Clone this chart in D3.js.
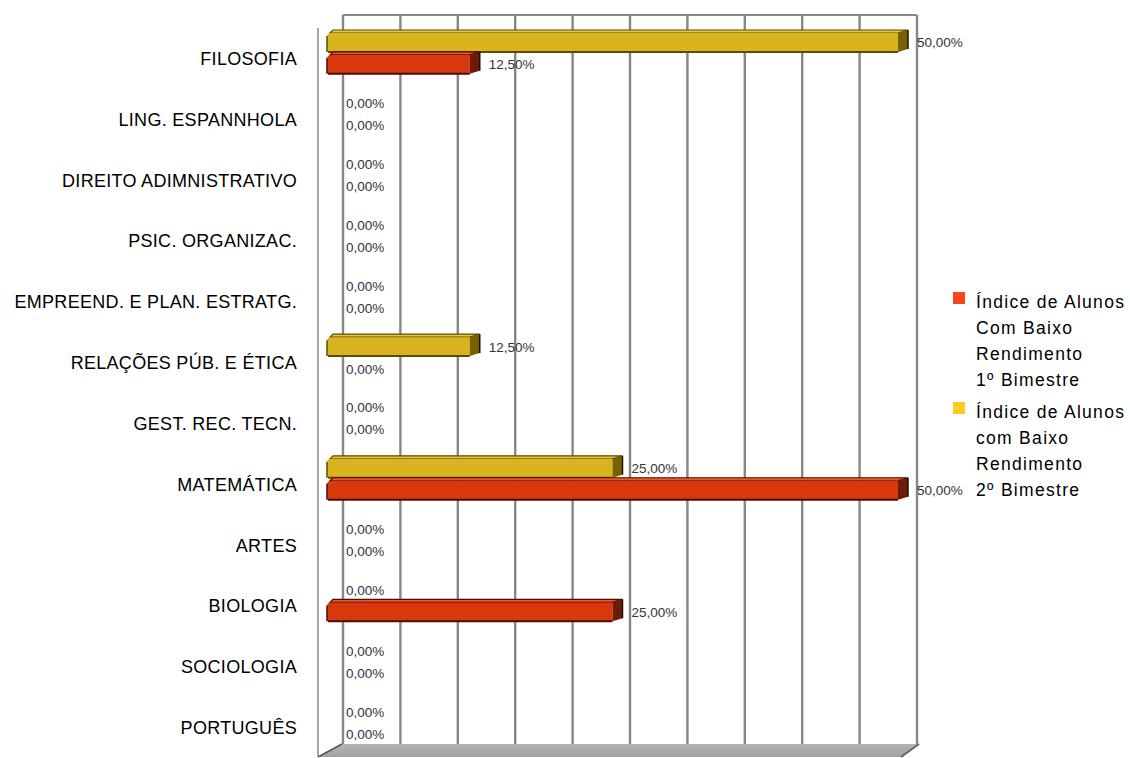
<!DOCTYPE html>
<html>
<head>
<meta charset="utf-8">
<script src="https://cdn.jsdelivr.net/npm/d3@7"></script>
<style>
  body { margin: 0; background: #fff; }
  svg { display: block; }
</style>
</head>
<body>
<svg id="chart" width="1130" height="758"></svg>
<script>
// Disciplinas (top to bottom)
const categories = [
  "FILOSOFIA",
  "LING. ESPANNHOLA",
  "DIREITO ADIMNISTRATIVO",
  "PSIC. ORGANIZAC.",
  "EMPREEND. E PLAN. ESTRATG.",
  "RELAÇÕES PÚB. E ÉTICA",
  "GEST. REC. TECN.",
  "MATEMÁTICA",
  "ARTES",
  "BIOLOGIA",
  "SOCIOLOGIA",
  "PORTUGUÊS"
];

// Percentual de alunos com baixo rendimento
const bimestre1 = [12.5, 0, 0, 0, 0, 0, 0, 50, 0, 25, 0, 0];
const bimestre2 = [50, 0, 0, 0, 0, 12.5, 0, 25, 0, 0, 0, 0];

const seriesKeys = ["b2", "b1"]; // drawing order inside each band (upper, lower)
const legendKeys = ["b1", "b2"];
const legendLines = {
  b1: ["Índice de Alunos", "Com Baixo", "Rendimento", "1º Bimestre"],
  b2: ["Índice de Alunos", "com Baixo", "Rendimento", "2º Bimestre"]
};
const gridTicks = [0, 5, 10, 15, 20, 25, 30, 35, 40, 45, 50];
const xMax = 50;

const palette = {
  b1: { front: "#d9380e", top: "#e8582a", side: "#6e1a06", edge: "#4a0e02", legend: "#f4481a" },
  b2: { front: "#d8b41e", top: "#e6c640", side: "#7a6100", edge: "#5e4a00", legend: "#fccc22" }
};

const valuesByKey = { b1: bimestre1, b2: bimestre2 };

const svg = d3.select("#chart");
const font = "'Liberation Sans', Arial, sans-serif";

// Back wall and bar scales
const wallTop = 15, wallBottom = 744, floorFront = 757, frontLeft = 318;
const xWall = d3.scaleLinear().domain([0, xMax]).range([343, 917]);
const xBar = d3.scaleLinear().domain([0, xMax]).range([327, 898]);
const y = d3.scaleBand().domain(categories).range([22, 752]).paddingInner(0.28).paddingOuter(0.14);
const ySeries = d3.scaleBand().domain(seriesKeys).range([0, y.bandwidth()]);

// Floor
const floorGrad = svg.append("defs").append("linearGradient")
  .attr("id", "floorGrad").attr("x1", 0).attr("y1", 0).attr("x2", 0).attr("y2", 1);
floorGrad.append("stop").attr("offset", 0).attr("stop-color", "#b4b4b4");
floorGrad.append("stop").attr("offset", 1).attr("stop-color", "#a2a2a2");

const floor = svg.append("g");
floor.append("path")
  .attr("d", `M${xWall(0) - 1},${wallBottom} L${xWall(xMax) + 2},${wallBottom} L${xWall(xMax) - 16},${floorFront} L${frontLeft},${floorFront} Z`)
  .attr("fill", "url(#floorGrad)");
floor.append("path")
  .attr("d", `M${frontLeft},${floorFront} L${xWall(0) - 1},${wallBottom}`)
  .attr("stroke", "#555").attr("stroke-width", 1.5).attr("fill", "none");
floor.append("path")
  .attr("d", `M${xWall(xMax) + 2},${wallBottom} L${xWall(xMax) - 16},${floorFront}`)
  .attr("stroke", "#666").attr("stroke-width", 2).attr("fill", "none");

// Gridlines on the back wall
const grid = svg.append("g");
grid.selectAll("line.g")
  .data(gridTicks)
  .join("line")
  .attr("class", "g")
  .attr("x1", d => xWall(d)).attr("x2", d => xWall(d))
  .attr("y1", wallTop).attr("y2", wallBottom)
  .attr("stroke", "#878787").attr("stroke-width", 2.4);
grid.append("line")
  .attr("x1", xWall(0)).attr("x2", xWall(xMax))
  .attr("y1", wallTop).attr("y2", wallTop)
  .attr("stroke", "#878787").attr("stroke-width", 2);

// Front left edge of the side wall
svg.append("line")
  .attr("x1", frontLeft).attr("x2", frontLeft)
  .attr("y1", 28).attr("y2", floorFront)
  .attr("stroke", "#8a8a8a").attr("stroke-width", 1.5);

// Bars
const depthX = 10, depthY = 3;
const bars = [];
categories.forEach((c, i) => {
  seriesKeys.forEach(k => {
    bars.push({ cat: c, key: k, value: valuesByKey[k][i] });
  });
});

const barG = svg.append("g");
bars.filter(d => d.value > 0).forEach(d => {
  const col = palette[d.key];
  const y0 = y(d.cat) + ySeries(d.key) + 2.5;
  const h = ySeries.bandwidth() - 3;
  const x0 = xBar(0), x1 = xBar(d.value);
  const g = barG.append("g");
  // top face
  g.append("path")
    .attr("d", `M${x0 + 3},${y0} L${x0 + 6},${y0 - depthY} L${x1 + depthX},${y0 - depthY} L${x1},${y0} Z`)
    .attr("fill", col.top).attr("stroke", col.edge).attr("stroke-width", 1.2);
  // front face with rounded left end
  g.append("path")
    .attr("d", `M${x0 + 4},${y0} L${x1},${y0} L${x1},${y0 + h} L${x0 + 1},${y0 + h} Q${x0},${y0 + h} ${x0},${y0 + h - 2} L${x0},${y0 + 4} Q${x0},${y0} ${x0 + 4},${y0} Z`)
    .attr("fill", col.front);
  g.append("line")
    .attr("x1", x0 + 1).attr("x2", x1)
    .attr("y1", y0 + h).attr("y2", y0 + h)
    .attr("stroke", col.edge).attr("stroke-width", 2);
  g.append("line")
    .attr("x1", x0).attr("x2", x0)
    .attr("y1", y0 + 3).attr("y2", y0 + h)
    .attr("stroke", col.edge).attr("stroke-width", 1.5);
  // right side face
  g.append("path")
    .attr("d", `M${x1},${y0} L${x1 + depthX},${y0 - depthY} L${x1 + depthX},${y0 + h - depthY} L${x1},${y0 + h} Z`)
    .attr("fill", col.side);
  g.append("line")
    .attr("x1", x1 + depthX).attr("x2", x1 + depthX)
    .attr("y1", y0 - depthY).attr("y2", y0 + h - depthY)
    .attr("stroke", "#1a1000").attr("stroke-width", 1.5);
});

// Value labels
const fmt = v => v.toFixed(2).replace(".", ",") + "%";
svg.append("g")
  .selectAll("text")
  .data(bars)
  .join("text")
  .attr("x", d => xBar(d.value) + 19)
  .attr("y", d => y(d.cat) + ySeries(d.key) + 2.5 + (ySeries.bandwidth() - 3) / 2 + 5)
  .attr("font-family", font)
  .attr("font-size", 13.5)
  .attr("fill", "#333")
  .text(d => fmt(d.value));

// Category labels
svg.append("g")
  .selectAll("text")
  .data(categories)
  .join("text")
  .attr("x", 297)
  .attr("y", d => y(d) + y.bandwidth() / 2 + 12.5)
  .attr("text-anchor", "end")
  .attr("font-family", font)
  .attr("font-size", 18)
  .attr("letter-spacing", 0.3)
  .attr("fill", "#000")
  .text(d => d);

// Legend
const legend = svg.append("g");
legendKeys.forEach((k, i) => {
  const top = 292 + i * 110;
  legend.append("rect")
    .attr("x", 953).attr("y", top)
    .attr("width", 12).attr("height", 12)
    .attr("fill", palette[k].legend);
  legend.append("text")
    .attr("font-family", font)
    .attr("font-size", 17.5)
    .attr("letter-spacing", 1.3)
    .attr("fill", "#000")
    .selectAll("tspan")
    .data(legendLines[k])
    .join("tspan")
    .attr("x", 976)
    .attr("y", (d, j) => top + 15.5 + j * 26)
    .text(d => d);
});
</script>
</body>
</html>
